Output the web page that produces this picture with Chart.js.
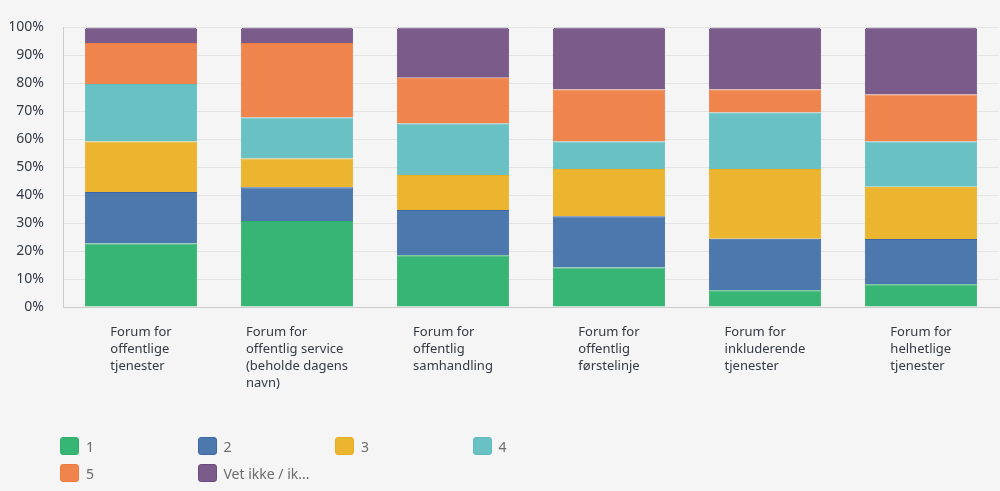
<!DOCTYPE html>
<html>
<head>
<meta charset="utf-8">
<script src="https://cdn.jsdelivr.net/npm/chart.js@4/dist/chart.umd.min.js"></script>
<style>
  html, body { margin: 0; padding: 0; background: #f5f5f5; }
  #wrap { position: relative; width: 1000px; height: 491px; }
  #legend { position: absolute; left: 60px; top: 437px; width: 560px; display: grid;
            grid-template-columns: repeat(4, 137.5px); row-gap: 9px;
            font-family: "Noto Sans", sans-serif; font-size: 14px; color: #6b6b6b; }
  .item { display: flex; align-items: center; height: 18px; }
  .box { width: 17px; height: 16px; border-radius: 3px; border: 1px solid; margin-right: 7px; flex: none; }
</style>
</head>
<body>
<div id="wrap">
  <canvas id="c" width="1000" height="491"></canvas>
  <div id="legend"></div>
</div>
<script>
const categories = [
  ["Forum for", "offentlige", "tjenester"],
  ["Forum for", "offentlig service", "(beholde dagens", "navn)"],
  ["Forum for", "offentlig", "samhandling"],
  ["Forum for", "offentlig", "førstelinje"],
  ["Forum for", "inkluderende", "tjenester"],
  ["Forum for", "helhetlige", "tjenester"]
];
const seriesNames = ["1", "2", "3", "4", "5", "Vet ikke / ik..."];
const series1 = [22.7, 30.8, 18.5, 14.1, 6.0, 8.1];
const series2 = [18.4, 12.0, 16.2, 18.4, 18.4, 16.2];
const series3 = [18.1, 10.3, 12.5, 16.9, 25.0, 18.7];
const series4 = [20.6, 14.7, 18.4, 9.8, 20.2, 16.2];
const series5 = [14.6, 26.6, 16.4, 18.6, 8.2, 16.8];
const seriesVet = [5.6, 5.6, 18.0, 22.2, 22.2, 24.0];
const yTickValues = [0, 10, 20, 30, 40, 50, 60, 70, 80, 90, 100];

const fills = ["#37b574", "#4c78ae", "#ebb52f", "#69c1c4", "#f0844d", "#7a5b8a"];
const borders = ["#2eae69", "#3b67a6", "#e9ae1e", "#5cbcc0", "#ee7a3f", "#6c4c80"];
const allSeries = [series1, series2, series3, series4, series5, seriesVet];

const datasets = allSeries.map((d, i) => ({
  label: seriesNames[i],
  data: d,
  backgroundColor: fills[i],
  borderColor: borders[i],
  borderWidth: 1,
  borderRadius: 3,
  borderSkipped: 'start',
  categoryPercentage: 0.72,
  barPercentage: 1.0
}));

const xLabelPlugin = {
  id: 'xLabels',
  afterDraw(chart) {
    const ctx = chart.ctx, xs = chart.scales.x, area = chart.chartArea;
    ctx.save();
    ctx.font = '13px "Noto Sans"';
    ctx.fillStyle = '#333a44';
    ctx.textAlign = 'left';
    ctx.textBaseline = 'middle';
    chart.data.labels.forEach((lines, i) => {
      const cx = xs.getPixelForValue(i);
      const w = Math.max(...lines.map(l => ctx.measureText(l).width));
      lines.forEach((l, j) => ctx.fillText(l, cx - w / 2, area.bottom + 25 + j * 17));
    });
    ctx.restore();
  }
};

const chart = new Chart(document.getElementById('c'), {
  type: 'bar',
  data: { labels: categories, datasets },
  options: {
    responsive: false,
    animation: false,
    layout: { padding: { left: 10, top: 25, right: 1, bottom: 176 } },
    plugins: { legend: { display: false }, tooltip: { enabled: false } },
    scales: {
      x: {
        stacked: true,
        grid: { display: false },
        border: { display: true, color: '#cccccc', width: 1 },
        ticks: { display: false }
      },
      y: {
        stacked: true,
        min: 0, max: 100,
        afterBuildTicks: (scale) => { scale.ticks = yTickValues.map(v => ({ value: v })); },
        afterFit: (scale) => { scale.width = 53; },
        grid: { color: '#e4e4e4', lineWidth: 1, drawTicks: false },
        border: { display: true, color: '#cccccc', width: 1 },
        ticks: {
          padding: 19,
          color: '#333a44',
          font: { family: '"Noto Sans"', size: 14 },
          callback: (v) => v + '%'
        }
      }
    }
  },
  plugins: [xLabelPlugin]
});

const legend = document.getElementById('legend');
chart.data.datasets.forEach(ds => {
  const item = document.createElement('div');
  item.className = 'item';
  const box = document.createElement('span');
  box.className = 'box';
  box.style.background = ds.backgroundColor;
  box.style.borderColor = ds.borderColor;
  const t = document.createElement('span');
  t.textContent = ds.label;
  item.appendChild(box); item.appendChild(t);
  legend.appendChild(item);
});
</script>
</body>
</html>
